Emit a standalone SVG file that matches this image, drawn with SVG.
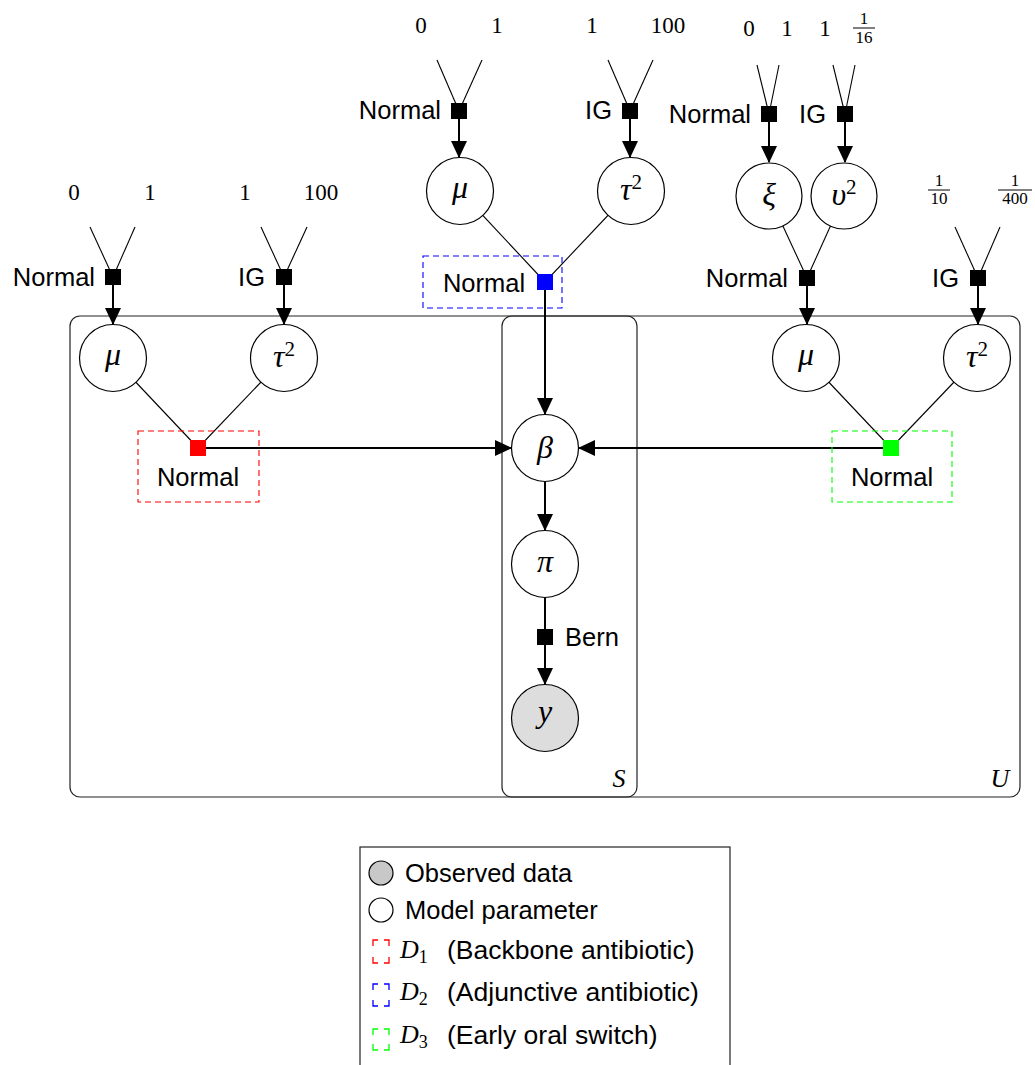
<svg xmlns="http://www.w3.org/2000/svg" width="1035" height="1065" viewBox="0 0 1035 1065">
<style>
.node{fill:#fff;stroke:#000;stroke-width:1.2}
.obs{fill:#dddddd;stroke:#000;stroke-width:1.2}
.fac{fill:#000}
.thin{stroke:#000;stroke-width:1.1;fill:none}
.arr{stroke:#000;stroke-width:2;fill:none;marker-end:url(#ah)}
.plate{fill:none;stroke:#222;stroke-width:1.2}
.math{font-family:"Liberation Serif",serif;font-style:italic;font-size:32px;text-anchor:middle}
.sup{font-style:normal;font-size:21px}
.num{font-family:"Liberation Serif",serif;font-size:23px;text-anchor:middle}
.frac{font-family:"Liberation Serif",serif;font-size:17px;text-anchor:middle}
.lab{font-family:"Liberation Sans",Arial,sans-serif;font-size:25.5px}
.end{text-anchor:end}
.mid{text-anchor:middle}
.dash{fill:none;stroke-width:1.1;stroke-dasharray:6 4}
.brk{fill:none;stroke-width:1.3}
</style>
<defs>
<marker id="ah" markerUnits="userSpaceOnUse" markerWidth="18" markerHeight="16" viewBox="0 0 18 16" refX="16" refY="8" orient="auto">
<path d="M0,0 L17,8 L0,16 z" fill="#000"/>
</marker>
</defs>
<rect width="1035" height="1065" fill="#fff"/>

<g id="plates">
<rect class="plate" x="70" y="316" width="950" height="481" rx="10"/>
<rect class="plate" x="502" y="316" width="135" height="481" rx="10"/>
<text x="619" y="787" class="math" style="font-size:26px">S</text>
<text x="1000" y="787" class="math" style="font-size:26px">U</text>
</g>

<g id="connectors">
<line class="thin" x1="90" y1="227" x2="113" y2="277"/>
<line class="thin" x1="135" y1="227" x2="113" y2="277"/>
<line class="thin" x1="261" y1="227" x2="284" y2="277"/>
<line class="thin" x1="307" y1="227" x2="284" y2="277"/>
<line class="thin" x1="437" y1="60" x2="459" y2="111"/>
<line class="thin" x1="482" y1="60" x2="459" y2="111"/>
<line class="thin" x1="608" y1="60" x2="630" y2="111"/>
<line class="thin" x1="653" y1="60" x2="630" y2="111"/>
<line class="thin" x1="757" y1="65" x2="769" y2="114"/>
<line class="thin" x1="779" y1="65" x2="769" y2="114"/>
<line class="thin" x1="833" y1="65" x2="845" y2="114"/>
<line class="thin" x1="855" y1="65" x2="845" y2="114"/>
<line class="thin" x1="955" y1="227" x2="978" y2="278"/>
<line class="thin" x1="1000" y1="227" x2="978" y2="278"/>
<line class="thin" x1="769" y1="196" x2="807" y2="278"/>
<line class="thin" x1="844" y1="196" x2="807" y2="278"/>
<line class="thin" x1="113" y1="358" x2="198" y2="448"/>
<line class="thin" x1="284" y1="358" x2="198" y2="448"/>
<line class="thin" x1="460" y1="191" x2="545" y2="282"/>
<line class="thin" x1="631" y1="191" x2="545" y2="282"/>
<line class="thin" x1="806" y1="358" x2="891" y2="448"/>
<line class="thin" x1="977" y1="358" x2="891" y2="448"/>

<line class="arr" x1="113" y1="285" x2="113" y2="324"/>
<line class="arr" x1="284" y1="285" x2="284" y2="324"/>
<line class="arr" x1="459" y1="119" x2="459" y2="157"/>
<line class="arr" x1="630" y1="119" x2="630" y2="157"/>
<line class="arr" x1="769" y1="122" x2="769" y2="162"/>
<line class="arr" x1="845" y1="122" x2="845" y2="162"/>
<line class="arr" x1="807" y1="286" x2="807" y2="324"/>
<line class="arr" x1="978" y1="286" x2="978" y2="324"/>
<line class="arr" x1="545" y1="290" x2="545" y2="414"/>
<line class="arr" x1="198" y1="448" x2="511" y2="448"/>
<line class="arr" x1="891" y1="448" x2="579" y2="448"/>
<line class="arr" x1="545" y1="482" x2="545" y2="530"/>
<line class="arr" x1="545" y1="597" x2="545" y2="684"/>
</g>

<g id="hyper-left">
<text x="74" y="200" class="num">0</text>
<text x="150" y="200" class="num">1</text>
<text x="245" y="200" class="num">1</text>
<text x="321" y="200" class="num">100</text>
</g>
<g id="hyper-mid">
<text x="421" y="33" class="num">0</text>
<text x="497" y="33" class="num">1</text>
<text x="592" y="33" class="num">1</text>
<text x="668" y="33" class="num">100</text>
</g>
<g id="hyper-right">
<text x="749" y="36" class="num">0</text>
<text x="787" y="36" class="num">1</text>
<text x="825" y="36" class="num">1</text>
<text x="864" y="24" class="frac">1</text>
<line x1="853" y1="28" x2="875" y2="28" stroke="#000" stroke-width="1"/>
<text x="864" y="43" class="frac">16</text>
<text x="939" y="186" class="frac">1</text>
<line x1="928" y1="190" x2="950" y2="190" stroke="#000" stroke-width="1"/>
<text x="939" y="204" class="frac">10</text>
<text x="1015" y="186" class="frac">1</text>
<line x1="998" y1="190" x2="1032" y2="190" stroke="#000" stroke-width="1"/>
<text x="1015" y="204" class="frac">400</text>
</g>

<g id="f-left-mu"><rect class="fac" x="105" y="269" width="16" height="16"/><text x="95" y="286" class="lab end">Normal</text></g>
<g id="f-left-tau"><rect class="fac" x="276" y="269" width="16" height="16"/><text x="265" y="286" class="lab end">IG</text></g>
<g id="f-mid-mu"><rect class="fac" x="451" y="103" width="16" height="16"/><text x="441" y="119" class="lab end">Normal</text></g>
<g id="f-mid-tau"><rect class="fac" x="622" y="103" width="16" height="16"/><text x="612" y="119" class="lab end">IG</text></g>
<g id="f-xi"><rect class="fac" x="761" y="106" width="16" height="16"/><text x="751" y="123" class="lab end">Normal</text></g>
<g id="f-ups"><rect class="fac" x="837" y="106" width="16" height="16"/><text x="826" y="123" class="lab end">IG</text></g>
<g id="f-right-mu"><rect class="fac" x="799" y="270" width="16" height="16"/><text x="788" y="287" class="lab end">Normal</text></g>
<g id="f-right-tau"><rect class="fac" x="970" y="270" width="16" height="16"/><text x="959" y="287" class="lab end">IG</text></g>

<g id="d1"><rect class="dash" stroke="#ff0000" x="138" y="431" width="121" height="71"/><rect x="190" y="440" width="16" height="16" fill="#ff0000"/><text x="198" y="486" class="lab mid">Normal</text></g>
<g id="d2"><rect class="dash" stroke="#0000ff" x="423" y="256" width="139" height="52"/><rect x="537" y="274" width="16" height="16" fill="#0000ff"/><text x="484" y="292" class="lab mid">Normal</text></g>
<g id="d3"><rect class="dash" stroke="#00ff00" x="832" y="431" width="120" height="71"/><rect x="883" y="440" width="16" height="16" fill="#00ff00"/><text x="892" y="486" class="lab mid">Normal</text></g>
<g id="f-bern"><rect class="fac" x="537" y="629" width="16" height="16"/><text x="565" y="646" class="lab">Bern</text></g>

<g id="n-left-mu"><circle class="node" cx="113" cy="358" r="33.5"/><text x="113" y="365" class="math">μ</text></g>
<g id="n-left-tau"><circle class="node" cx="284" cy="358" r="33.5"/><text x="284" y="367" class="math">τ<tspan class="sup" dy="-11">2</tspan></text></g>
<g id="n-mid-mu"><circle class="node" cx="460" cy="191" r="33.5"/><text x="460" y="198" class="math">μ</text></g>
<g id="n-mid-tau"><circle class="node" cx="631" cy="191" r="33.5"/><text x="631" y="200" class="math">τ<tspan class="sup" dy="-11">2</tspan></text></g>
<g id="n-xi"><circle class="node" cx="769" cy="196" r="33"/><text x="769" y="205" class="math">ξ</text></g>
<g id="n-ups"><circle class="node" cx="844" cy="196" r="33"/><text x="844" y="205" class="math">υ<tspan class="sup" dy="-11">2</tspan></text></g>
<g id="n-right-mu"><circle class="node" cx="806" cy="358" r="33.5"/><text x="806" y="365" class="math">μ</text></g>
<g id="n-right-tau"><circle class="node" cx="977" cy="358" r="33.5"/><text x="977" y="367" class="math">τ<tspan class="sup" dy="-11">2</tspan></text></g>
<g id="n-beta"><circle class="node" cx="545" cy="448" r="33.5"/><text x="545" y="458" class="math">β</text></g>
<g id="n-pi"><circle class="node" cx="545" cy="564" r="33.5"/><text x="545" y="572" class="math">π</text></g>
<g id="n-y"><circle class="obs" cx="545" cy="718" r="33.5"/><text x="545" y="722" class="math">y</text></g>

<g id="legend">
<rect x="360" y="847" width="370" height="240" fill="none" stroke="#222" stroke-width="1.2"/>
<circle cx="381" cy="873" r="12" fill="#c8c8c8" stroke="#000" stroke-width="1.2"/>
<text x="405" y="882" class="lab">Observed data</text>
<circle cx="381" cy="910" r="12" fill="#fff" stroke="#000" stroke-width="1.2"/>
<text x="405" y="919" class="lab">Model parameter</text>
<path class="brk" stroke="#ff0000" d="M373,946 V940 H378 M384,940 H389 V946 M389,957 V963 H384 M378,963 H373 V957"/>
<text x="400" y="958" class="math" style="text-anchor:start;font-size:26px">D<tspan style="font-style:normal;font-size:18px" dy="5">1</tspan></text>
<text x="447" y="959" class="lab" style="font-size:26.5px">(Backbone antibiotic)</text>
<path class="brk" stroke="#0000ff" d="M373,990 V984 H378 M384,984 H389 V990 M389,1000 V1006 H384 M378,1006 H373 V1000"/>
<text x="400" y="1000" class="math" style="text-anchor:start;font-size:26px">D<tspan style="font-style:normal;font-size:18px" dy="5">2</tspan></text>
<text x="447" y="1001" class="lab" style="font-size:26.5px">(Adjunctive antibiotic)</text>
<path class="brk" stroke="#00ff00" d="M373,1035 V1029 H378 M384,1029 H389 V1035 M389,1044 V1050 H384 M378,1050 H373 V1044"/>
<text x="400" y="1043" class="math" style="text-anchor:start;font-size:26px">D<tspan style="font-style:normal;font-size:18px" dy="5">3</tspan></text>
<text x="447" y="1044" class="lab" style="font-size:26.5px">(Early oral switch)</text>
</g>
</svg>
